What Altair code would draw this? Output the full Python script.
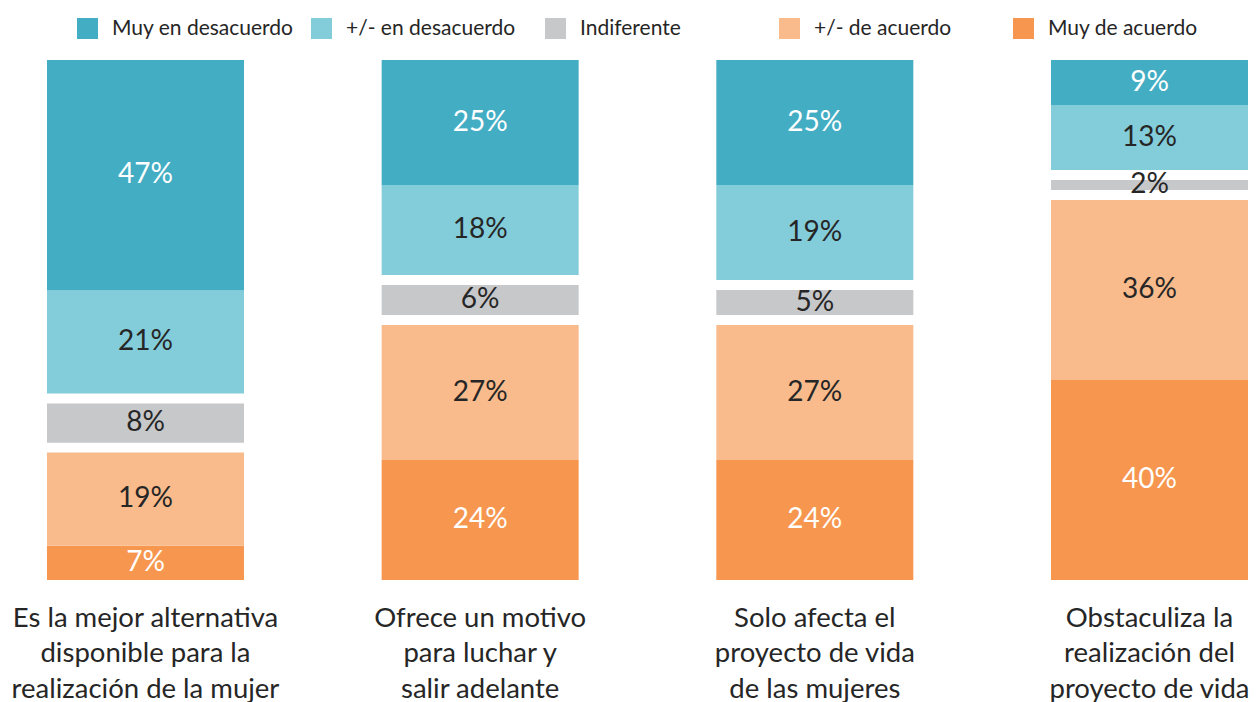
import altair as alt
import pandas as pd

# ---- data ----
questions = [
    "Es la mejor alternativa|disponible para la|realización de la mujer",
    "Ofrece un motivo|para luchar y|salir adelante",
    "Solo afecta el|proyecto de vida|de las mujeres",
    "Obstaculiza la|realización del|proyecto de vida",
]
categories = ["Muy en desacuerdo", "+/- en desacuerdo", "Indiferente",
              "+/- de acuerdo", "Muy de acuerdo"]
muy_desacuerdo = [47, 25, 25, 9]
mas_menos_desacuerdo = [21, 18, 19, 13]
indiferente = [8, 6, 5, 2]
mas_menos_acuerdo = [19, 27, 27, 36]
muy_acuerdo = [7, 24, 24, 40]

colors = ["#43ADC4", "#83CCD9", "#C7C8CA", "#F9BB8B", "#F7964E"]
GAP = 2  # spacer around "Indiferente"

rows = []
for i, q in enumerate(questions):
    stack = [
        ("Muy de acuerdo", muy_acuerdo[i], "data"),
        ("+/- de acuerdo", mas_menos_acuerdo[i], "data"),
        ("gap_lo", GAP, "gap"),
        ("Indiferente", indiferente[i], "data"),
        ("gap_hi", GAP, "gap"),
        ("+/- en desacuerdo", mas_menos_desacuerdo[i], "data"),
        ("Muy en desacuerdo", muy_desacuerdo[i], "data"),
    ]
    for k, (cat, v, kind) in enumerate(stack):
        rows.append({"q": q, "cat": cat, "value": v, "kind": kind, "ord": k})
df = pd.DataFrame(rows)

FONT = "Lato"
TXT = "#262626"

xscale = alt.Scale(paddingInner=0.41135, paddingOuter=0.06125, align=0.951)

base = alt.Chart(df).transform_stack(
    stack="value", groupby=["q"], sort=[alt.SortField("ord", order="ascending")],
    as_=["y0", "y1"], offset="normalize"
).transform_filter("datum.kind == 'data'")

bars = base.mark_bar().encode(
    x=alt.X("q:N", sort=questions, scale=xscale, title=None,
            axis=alt.Axis(labelExpr="split(datum.label, '|')", labelAngle=0,
                          labelFont=FONT, labelFontSize=27.5, labelLineHeight=35.5,
                          labelColor=TXT, labelPadding=24, labelLimit=600,
                          ticks=False, tickSize=0, domain=False, grid=False)),
    y=alt.Y("y0:Q", scale=alt.Scale(domain=[0, 1], nice=False, zero=False), axis=None),
    y2="y1:Q",
    color=alt.Color("cat:N", scale=alt.Scale(domain=categories, range=colors),
                    legend=alt.Legend(title=None, orient="none", legendX=69, legendY=-42,
                                      direction="horizontal", columns=5, gridAlign="all",
                                      columnPadding=17, symbolType="square",
                                      symbolSize=440, symbolStrokeWidth=0,
                                      labelFont=FONT, labelFontSize=21, labelColor=TXT,
                                      labelOffset=14, labelLimit=400, padding=0)),
)

labels = base.transform_calculate(
    mid="(datum.y0 + datum.y1) / 2", lbl="datum.value + '%'"
).mark_text(font=FONT, fontSize=28, align="center", baseline="middle").encode(
    x=alt.X("q:N", sort=questions, scale=xscale),
    y=alt.Y("mid:Q"),
    text="lbl:N",
    color=alt.condition("datum.cat == 'Muy en desacuerdo' || datum.cat == 'Muy de acuerdo'",
                        alt.value("white"), alt.value(TXT)),
)

chart = alt.layer(bars, labels).properties(
    width=1242, height=520, background="white",
    padding={"left": 0, "right": 0, "top": 52, "bottom": 136},
    autosize=alt.AutoSizeParams(type="none"),
).configure_view(stroke=None)

chart.save("out.html", embed_options={"renderer": "svg", "actions": False})
